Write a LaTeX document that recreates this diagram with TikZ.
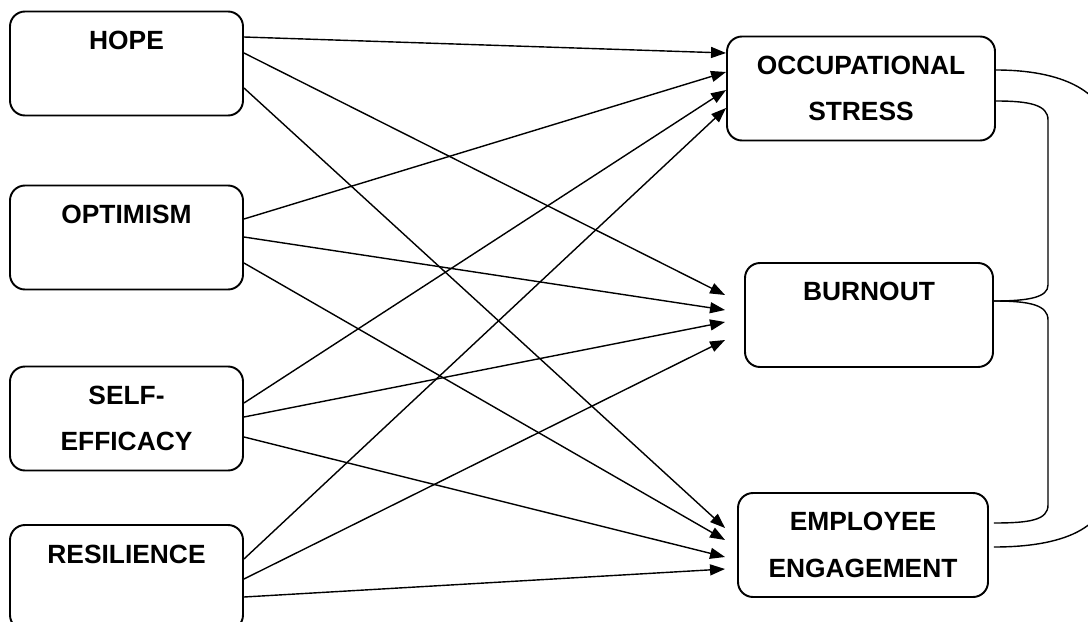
\documentclass[tikz,border=0pt]{standalone}
\usepackage{fontspec}
\setmainfont{Liberation Sans}
\usetikzlibrary{arrows.meta}
\tikzset{
	factor/.style={draw, line width=1.1pt, rounded corners=0.3cm, align=center, inner sep=0pt,
		minimum height=2.08cm, font=\fontsize{15}{26.5}\selectfont\bfseries},
	link/.style={line width=0.8pt, -{Triangle[length=3mm,width=2.2mm]}},
	bracket/.style={line width=0.8pt}
}

\begin{document}
\begin{tikzpicture}
			%%%%% START %%%%%
			\useasboundingbox (0,0) rectangle (21.76,-12.44);
			
			% predictors
			\node[factor, minimum width=4.66cm] (hope) at (2.53,-1.27) {HOPE\\\mbox{}};
			\node[factor, minimum width=4.66cm] (opt) at (2.53,-4.75) {OPTIMISM\\\mbox{}};
			\node[factor, minimum width=4.66cm] (self) at (2.53,-8.37) {SELF-\\EFFICACY};
			\node[factor, minimum width=4.66cm, minimum height=2.1cm] (res) at (2.53,-11.55) {RESILIENCE\\\mbox{}};
			
			% outcomes
			\node[factor, minimum width=5.36cm] (os) at (17.22,-1.77) {OCCUPATIONAL\\STRESS};
			\node[factor, minimum width=4.96cm] (bo) at (17.38,-6.30) {BURNOUT\\\mbox{}};
			\node[factor, minimum width=5.0cm] (ee) at (17.26,-10.90) {EMPLOYEE\\ENGAGEMENT};
			
			% paths
			\foreach \srcnode/\srcy/\dstnode/\dstx/\dsty in {
					hope/0.53/os/0/0.71, hope/0.21/bo/-0.38/0.40, hope/-0.49/ee/-0.24/0.34,
					opt/0.37/os/0/0.33, opt/0.01/bo/-0.38/0.10, opt/-0.51/ee/-0.24/0.10,
					self/0.31/os/0/-0.03, self/0.03/bo/-0.38/-0.14, self/-0.37/ee/-0.24/-0.24,
					res/0.37/os/0/-0.39, res/-0.03/bo/-0.38/-0.50, res/-0.39/ee/-0.24/-0.48}
				\draw[link] ([yshift=\srcy cm]\srcnode.east) -- ([xshift=\dstx cm, yshift=\dsty cm]\dstnode.west);
			
			% correlations
			\draw[bracket] ([yshift=-0.25cm]os.east) .. controls (20.6,-2.02) and (20.96,-2.1) .. (20.96,-2.4)
				-- (20.96,-5.7) .. controls (20.96,-5.94) and (20.6,-6.02) .. ([yshift=0.28cm]bo.east);
			\draw[bracket] ([yshift=0.28cm]bo.east) .. controls (20.6,-6.02) and (20.96,-6.1) .. (20.96,-6.4)
				-- (20.96,-10.1) .. controls (20.96,-10.4) and (20.6,-10.46) .. ([xshift=0.1cm, yshift=0.44cm]ee.east);
			\draw[bracket] ([yshift=0.37cm]os.east) .. controls (21.2,-1.4) and (22.2,-1.8) .. (22.2,-2.8)
				-- (22.2,-9.6) .. controls (22.2,-10.6) and (21.2,-10.94) .. ([xshift=0.1cm, yshift=-0.04cm]ee.east);
			
			%%%%% END %%%%%
\end{tikzpicture}
\end{document}
